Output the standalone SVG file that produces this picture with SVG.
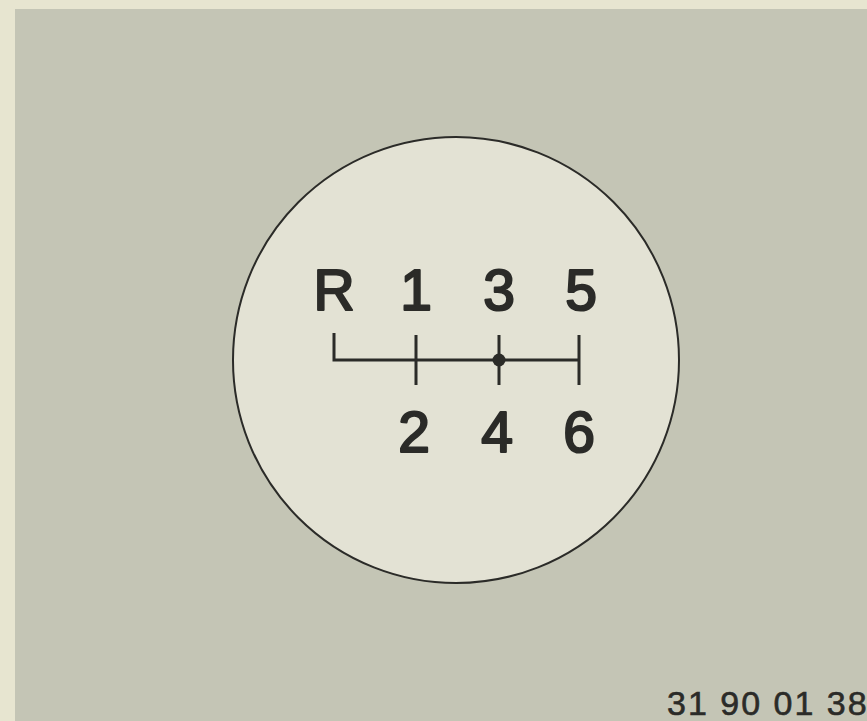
<svg xmlns="http://www.w3.org/2000/svg" width="867" height="721" viewBox="0 0 867 721">
<style>
.g{font-family:"Liberation Sans",Arial,sans-serif;font-size:57px;fill:#2b2b28;stroke:#2b2b28;stroke-width:2.2;stroke-linejoin:round;text-anchor:middle}
.ln{stroke:#2b2b28;stroke-width:3;fill:none}
.cap{font-family:"Liberation Sans",Arial,sans-serif;font-size:34px;letter-spacing:2px;fill:#2b2b28;stroke:#2b2b28;stroke-width:0.6}
</style>
<rect x="0" y="0" width="867" height="721" fill="#e7e5d0"/>
<rect x="15" y="9" width="852" height="712" fill="#c4c5b5"/>
<g id="knob">
<circle cx="456" cy="360" r="223" fill="#e3e2d4" stroke="#2b2b28" stroke-width="2"/>
</g>
<g id="labels">
<text class="g" x="334" y="310">R</text>
<text class="g" x="416" y="310">1</text>
<text class="g" x="499" y="310">3</text>
<text class="g" x="581" y="310">5</text>
<text class="g" x="414" y="452">2</text>
<text class="g" x="497" y="452">4</text>
<text class="g" x="579" y="452">6</text>
</g>
<g id="connectors">
<path class="ln" d="M334 333 V360 H579"/>
<path class="ln" d="M416 335 V385 M499 335 V385 M579 335 V385"/>
<circle cx="499" cy="360" r="6.5" fill="#2b2b28"/>
</g>
<text class="cap" x="667" y="715">31 90 01 38</text>
</svg>
